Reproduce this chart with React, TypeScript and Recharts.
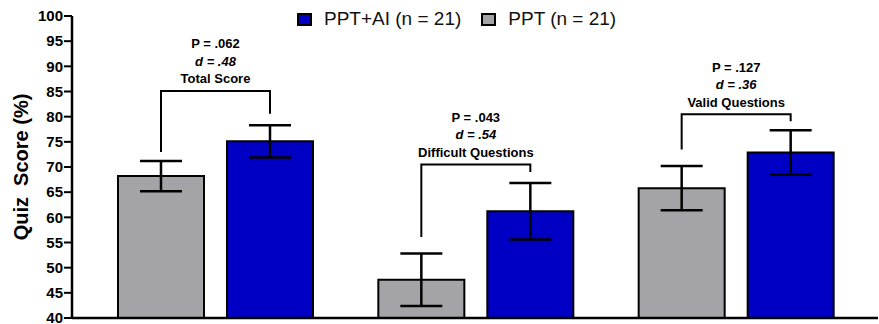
import React from 'react';
import { BarChart, Bar, XAxis, YAxis, ErrorBar, Legend, LabelList } from 'recharts';

const categories = ['Total Score', 'Difficult Questions', 'Valid Questions'];
const pptMeans = [68.2, 47.6, 65.8];
const pptErrors = [3.0, 5.2, 4.4];
const aiMeans = [75.1, 61.2, 72.9];
const aiErrors = [3.2, 5.6, 4.4];
const pValues = ['.062', '.043', '.127'];
const dValues = ['.48', '.54', '.36'];
// bracket heights, in score units
const bracketTops = [85.1, 70.5, 80.5];
const bracketLeftEnds = [73.0, 56.1, 73.5];
const bracketRightEnds = [80.6, 69.0, 79.1];
const yTicks = [40, 45, 50, 55, 60, 65, 70, 75, 80, 85, 90, 95, 100];

const BLUE = '#0000c4';
const GRAY = '#a4a4a8';
const FONT = '"Liberation Sans", Arial, Helvetica, sans-serif';
const Y_MIN = 40;
const BAR_GAP = 23;

const data = categories.map((name, i) => ({
  name,
  ppt: pptMeans[i],
  pptErr: pptErrors[i],
  ai: aiMeans[i],
  aiErr: aiErrors[i],
}));

// draws the significance bracket + text above each pair, starting from the PPT bar
const renderBracket = (props: any) => {
  const x = Number(props.x);
  const y = Number(props.y);
  const width = Number(props.width);
  const height = Number(props.height);
  const index = props.index;
  const value = pptMeans[index];
  const base = y + height;
  const perUnit = height / (value - Y_MIN);
  const yOf = (v: number) => base - (v - Y_MIN) * perUnit;

  const xl = x + width / 2;
  const xr = x + width + BAR_GAP + width / 2;
  const top = yOf(bracketTops[index]);
  const mid = (xl + xr) / 2;
  const textStyle = { fontFamily: FONT, fontSize: 13, fontWeight: 700, fill: '#000' };

  return (
    <g key={`bracket-${index}`}>
      <polyline
        points={`${xl},${yOf(bracketLeftEnds[index])} ${xl},${top} ${xr},${top} ${xr},${yOf(bracketRightEnds[index])}`}
        fill="none"
        stroke="#000"
        strokeWidth={2}
      />
      <text x={mid} y={top - 12 - 35 + 4.5} textAnchor="middle" style={textStyle}>
        P = {pValues[index]}
      </text>
      <text x={mid} y={top - 12 - 17.5 + 4.5} textAnchor="middle" style={{ ...textStyle, fontStyle: 'italic' }}>
        d = {dValues[index]}
      </text>
      <text x={mid} y={top - 12 + 4.5} textAnchor="middle" style={textStyle}>
        {categories[index]}
      </text>
    </g>
  );
};

const renderYLabel = (props: any) => {
  const vb = props.viewBox || {};
  const cx = vb.x + 21;
  const cy = vb.y + vb.height / 2;
  return (
    <text
      x={cx}
      y={cy}
      transform={`rotate(-90, ${cx}, ${cy})`}
      textAnchor="middle"
      dominantBaseline="central"
      style={{ fontFamily: FONT, fontSize: 20, fontWeight: 700, fill: '#000', whiteSpace: 'pre' }}
    >
      {'Quiz  Score (%)'}
    </text>
  );
};

const LegendContent = (props: any) => {
  const items = [...(props.payload || [])].reverse();
  return (
    <div style={{ display: 'flex', alignItems: 'center', fontFamily: FONT, fontSize: 19, color: '#111' }}>
      {items.map((it: any) => (
        <div key={it.value} style={{ display: 'flex', alignItems: 'center', marginRight: 20 }}>
          <span
            style={{
              display: 'inline-block',
              width: 15,
              height: 13,
              background: it.color,
              border: '2px solid #000',
              boxSizing: 'border-box',
              marginRight: 12,
            }}
          />
          <span>{it.value}</span>
        </div>
      ))}
    </div>
  );
};

export default function App() {
  return (
    <div style={{ width: 879, height: 324, background: '#fff' }}>
      <style>{`body{margin:0;}`}</style>
      <BarChart
        width={879}
        height={324}
        data={data}
        margin={{ top: 16, right: 1, bottom: 5, left: 0 }}
        barCategoryGap={33}
        barGap={BAR_GAP}
      >
        <XAxis
          dataKey="name"
          tick={false}
          tickLine={false}
          height={1}
          padding={{ left: 13, right: 12 }}
          axisLine={{ stroke: '#000', strokeWidth: 2.5 }}
        />
        <YAxis
          domain={[40, 100]}
          ticks={yTicks}
          interval={0}
          width={72}
          tickSize={8}
          tickMargin={1}
          axisLine={{ stroke: '#000', strokeWidth: 2.5 }}
          tickLine={{ stroke: '#000', strokeWidth: 2 }}
          tick={{ fontFamily: FONT, fontSize: 15, fontWeight: 700, fill: '#000' }}
          label={{ content: renderYLabel }}
        />
        <Legend
          layout="horizontal"
          verticalAlign="middle"
          align="center"
          content={LegendContent}
          wrapperStyle={{ top: 8, left: 297, width: 'auto' }}
        />
        <Bar dataKey="ppt" name="PPT (n = 21)" fill={GRAY} stroke="#000" strokeWidth={2} isAnimationActive={false}>
          <ErrorBar dataKey="pptErr" width={21} stroke="#000" strokeWidth={2.5} />
          <LabelList dataKey="ppt" content={renderBracket} />
        </Bar>
        <Bar dataKey="ai" name="PPT+AI (n = 21)" fill={BLUE} stroke="#000" strokeWidth={2} isAnimationActive={false}>
          <ErrorBar dataKey="aiErr" width={21} stroke="#000" strokeWidth={2.5} />
        </Bar>
      </BarChart>
    </div>
  );
}
